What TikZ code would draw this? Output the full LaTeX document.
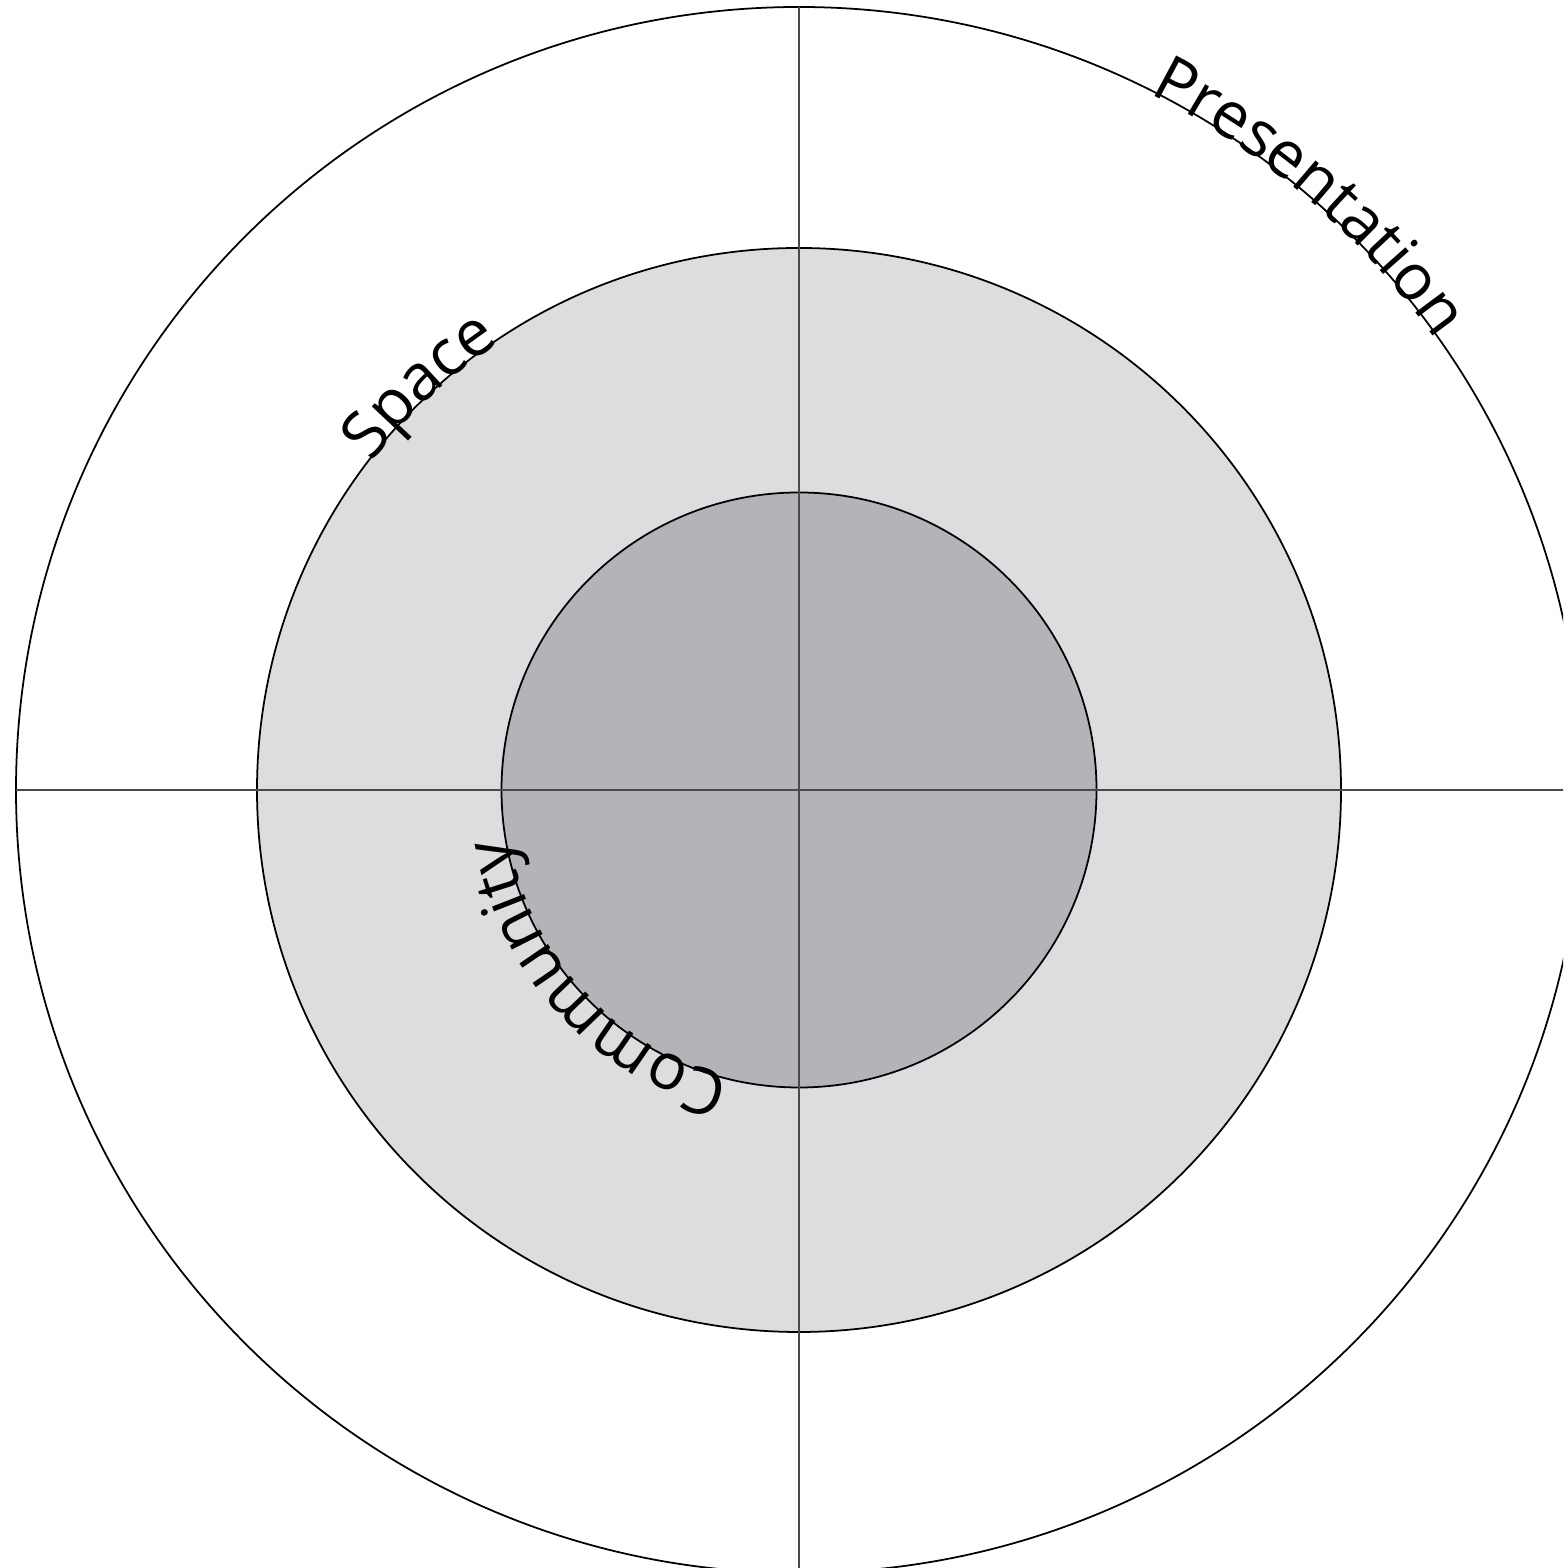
\documentclass[tikz,border=0pt]{standalone}
\usepackage{fontspec}
\setmainfont{Open Sans}
\usetikzlibrary{decorations.text}
\definecolor{ringlight}{HTML}{DCDDDF}
\definecolor{ringdark}{HTML}{B3B4B7}
\definecolor{axisgray}{HTML}{4A4A4A}
\newcommand\lblfont{\fontsize{18.3pt}{21pt}\selectfont}
\begin{document}
\begin{tikzpicture}[x=1cm,y=1cm,
  ringline/.style={draw=black, line width=0.5pt},
  axisline/.style={draw=axisgray, line width=0.7pt},
  arclabel/.style={decorate, decoration={text along path, text align=left, raise=-1pt, text={#1}}}]
\useasboundingbox (0,0) rectangle (15.63,15.68);
\coordinate (c) at (7.99,7.78);
\begin{scope}
\clip (0,0) rectangle (15.63,15.68);
\path[ringline, fill=white] (c) circle[radius=7.83];
\path[ringline, fill=ringlight] (c) circle[radius=5.42];
\path[ringline, fill=ringdark] (c) circle[radius=2.975];
\coordinate (ntop) at ([yshift=7.83cm]c);
\coordinate (nbot) at ([yshift=-7.83cm]c);
\coordinate (nleft) at ([xshift=-7.83cm]c);
\coordinate (nright) at ([xshift=7.83cm]c);
\draw[axisline] (ntop) -- (nbot);
\draw[axisline] (nleft) -- (nright);
\end{scope}
\path[arclabel={|\lblfont|Presentation}] ([shift={(63.3:7.83)}]c) arc[start angle=63.3, end angle=25, radius=7.83];
\path[arclabel={|\lblfont|Space}] ([shift={(142.5:5.42)}]c) arc[start angle=142.5, end angle=105, radius=5.42];
\path[arclabel={|\lblfont|Community}] ([shift={(-103.5:2.975)}]c) arc[start angle=-103.5, end angle=-185, radius=2.975];
\end{tikzpicture}
\end{document}
